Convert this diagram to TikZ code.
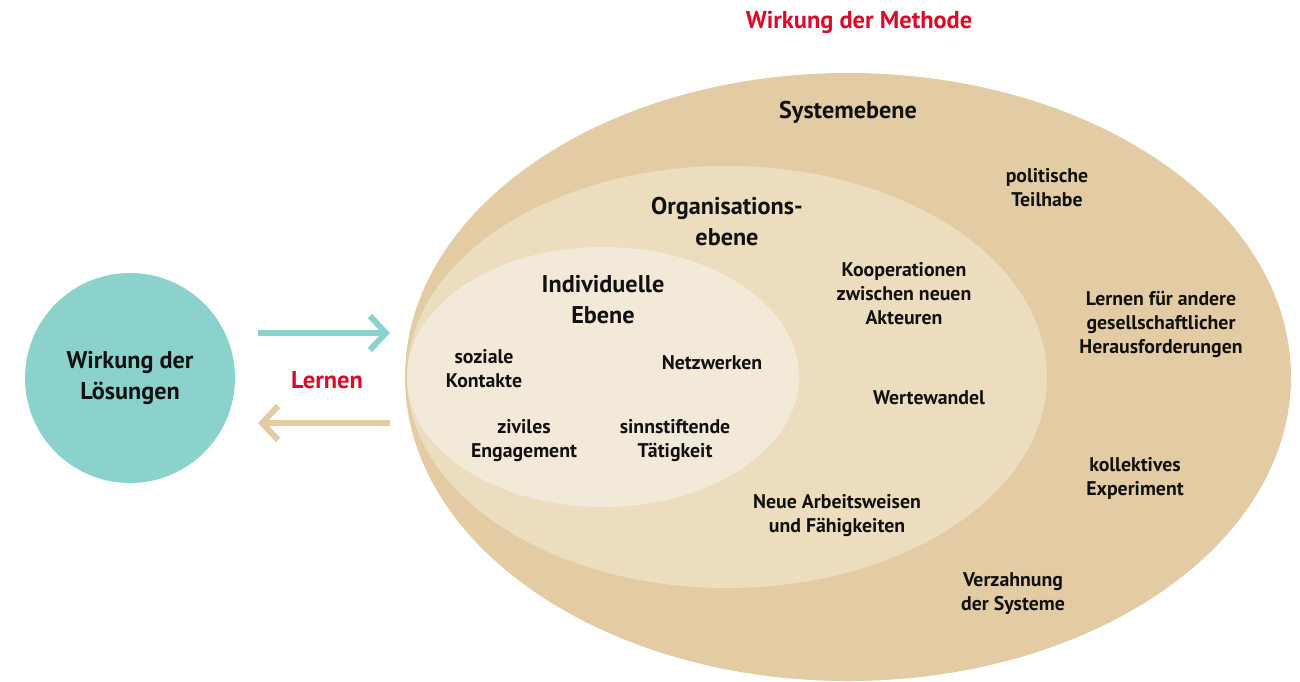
\documentclass[tikz,border=0pt]{standalone}
\usepackage{fontspec}
\setmainfont{PT Sans}
\usetikzlibrary{arrows.meta,shapes.geometric}
\definecolor{sysc}{HTML}{E3CCA3}
\definecolor{orgc}{HTML}{EDDDBF}
\definecolor{indc}{HTML}{F3E9D9}
\definecolor{tealc}{HTML}{8AD2CB}
\definecolor{redc}{HTML}{DA0A2C}
\definecolor{txtc}{HTML}{111111}
\tikzset{
  lbl/.style={align=center, text=txtc, font=\bfseries\fontsize{9.9}{12}\selectfont, inner sep=0pt},
  head/.style={align=center, text=txtc, font=\bfseries\fontsize{12.1}{15.5}\selectfont, inner sep=0pt},
  redlbl/.style={text=redc, font=\bfseries\fontsize{12.2}{14}\selectfont, inner sep=0pt},
  flow/.style={line width=3pt, -{Straight Barb[length=8pt, width=17pt]}},
}
\begin{document}
\begin{tikzpicture}[x=0.5pt, y=-0.5pt]
\useasboundingbox (0,0) rectangle (1300,681);
% ellipses
\fill[sysc] (848,377) ellipse [x radius=221.5pt, y radius=152pt];
\fill[orgc] (727,377) ellipse [x radius=160pt, y radius=105.5pt];
\fill[indc] (603,377) ellipse [x radius=98pt, y radius=65pt];
% circle
\node[circle, fill=tealc, minimum size=105pt, inner sep=0pt] (loes) at (130,378) {};
\node[head] (loest) at (130,378) {Wirkung der\\Lösungen};
% arrows
\coordinate (a1s) at (258,333);
\coordinate (a1e) at (390,333);
\coordinate (a2s) at (390,423);
\coordinate (a2e) at (258,423);
\draw[flow, tealc] (a1s) -- (a1e);
\draw[flow, sysc] (a2s) -- (a2e);
\node[redlbl] (lernen) at (327,380) {Lernen};
% title
\node[redlbl] (title) at (859,22) {Wirkung der Methode};
% system level
\node[head] (sys) at (848,112) {Systemebene};
\node[lbl] (pol) at (1047,188) {politische\\Teilhabe};
\node[lbl] (lern) at (1161,324) {Lernen für andere\\gesellschaftlicher\\Herausforderungen};
\node[lbl] (koll) at (1135,478) {kollektives\\Experiment};
\node[lbl] (verz) at (1013,594) {Verzahnung\\der Systeme};
% organisation level
\node[head] (org) at (727,222) {Organisations-\\ebene};
\node[lbl] (koop) at (904,294) {Kooperationen\\zwischen neuen\\Akteuren};
\node[lbl] (wert) at (929,398) {Wertewandel};
\node[lbl] (neue) at (837,516) {Neue Arbeitsweisen\\und Fähigkeiten};
% individual level
\node[head] (ind) at (603,300) {Individuelle\\Ebene};
\node[lbl] (soz) at (484,369) {soziale\\Kontakte};
\node[lbl] (netz) at (712,363) {Netzwerken};
\node[lbl] (ziv) at (524,441) {ziviles\\Engagement};
\node[lbl] (sinn) at (675,441) {sinnstiftende\\Tätigkeit};
\end{tikzpicture}
\end{document}
